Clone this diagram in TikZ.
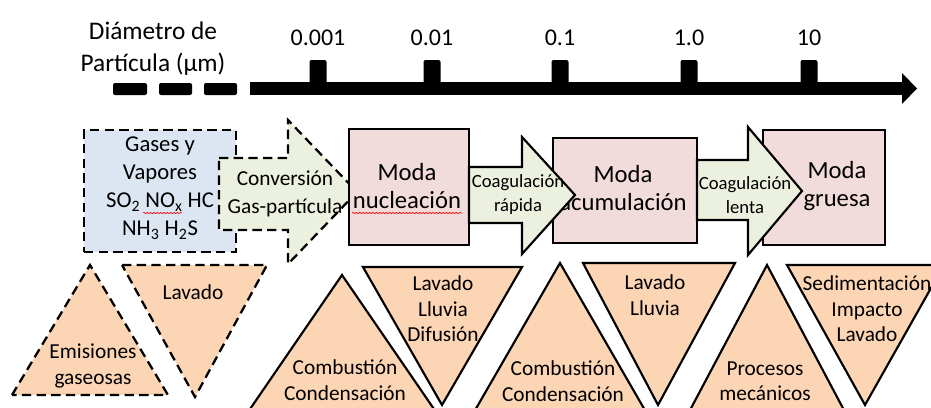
\documentclass[tikz,border=0pt]{standalone}
\usepackage{fontspec}
\setmainfont{Carlito}
\usetikzlibrary{positioning,calc,decorations.pathmorphing}

\definecolor{gasblue}{RGB}{220,230,242}
\definecolor{convgreen}{RGB}{235,241,222}
\definecolor{modepink}{RGB}{242,220,219}
\definecolor{procpeach}{RGB}{252,213,180}

\begin{document}
\begin{tikzpicture}[
    x=0.75pt, y=-0.75pt,
    dashline/.style={
        dash pattern=on 7pt off 4pt,
        line width=1.7pt
    },
    modebox/.style={
        rectangle,
        draw,
        line width=1.6pt,
        fill=modepink,
        inner sep=0pt
    },
    gasbox/.style={
        rectangle,
        draw,
        dashline,
        fill=gasblue,
        inner sep=0pt
    },
    fatarrow/.style={
        draw,
        line width=1.6pt,
        fill=convgreen
    },
    tri/.style={
        draw,
        line width=1.6pt,
        fill=procpeach
    },
    txt/.style={
        align=center,
        inner sep=0pt,
        font=\fontsize{16}{19}\selectfont
    },
    modetxt/.style={
        txt,
        font=\fontsize{18.5}{21}\selectfont
    },
    smalltxt/.style={
        txt,
        font=\fontsize{14}{18}\selectfont
    },
    ticktxt/.style={
        txt,
        font=\fontsize{18}{22}\selectfont
    },
    squiggle/.style={
        red,
        line width=0.5pt,
        decorate,
        decoration={snake, amplitude=0.5pt, segment length=2.5pt}
    }
]
    \useasboundingbox (0,0) rectangle (931,407);

    % Axis
    \node [txt, font=\fontsize{19}{24}\selectfont] (axis_lbl) at (153,49) {Diámetro de\\Partícula (µm)};
    \foreach \xa/\xb in {113/147, 159/192, 204/237}
        \fill [rounded corners=1.5pt] (\xa,83) rectangle (\xb,95);
    \fill (250,82) rectangle (903,95);
    \fill (902,73) -- (917,88.5) -- (902,104) -- cycle;
    \foreach \x/\v [count=\i] in {318/0.001, 432/0.01, 560/0.1, 689/1.0, 809/10} {
        \fill [rounded corners=1.5pt] (\x-8.5,60) rectangle (\x+8.5,90);
        \node [ticktxt] (tick\i) at (\x,38) {\v};
    }

    % Gases
    \node [gasbox, minimum width=114pt, minimum height=91.5pt] (gases) at (160,191) {};
    \node [txt, font=\fontsize{17}{21}\selectfont] (gases_t) at (160,188)
        {Gases y\\Vapores\\SO\textsubscript{2} NO\textsubscript{x} HC\\NH\textsubscript{3} H\textsubscript{2}S};
    \draw [squiggle] (143,213) -- (182,213);

    % Conversion
    \draw [fatarrow, dashline] (219,158) -- (288,158) -- (288,120) -- (357,192)
        -- (288,264) -- (288,230) -- (219,230) -- cycle;
    \node [txt, font=\fontsize{16}{21}\selectfont] (conv_t) at (285,194) {Conversión\\Gas-partícula};

    % Modes
    \node [modebox, minimum width=90pt, minimum height=87pt] (nuc) at (409,187) {};
    \node [modetxt] (nuc_t) at (407,186) {Moda\\nucleación};
    \draw [squiggle] (352,213) -- (462,213);

    \node [modebox, minimum width=108pt, minimum height=78.75pt] (acu) at (625,190.5) {};
    \node [modetxt] (acu_t) at (623,188) {Moda\\acumulación};

    \node [modebox, minimum width=91.5pt, minimum height=86.25pt] (gru) at (824,187.5) {};
    \node [modetxt] (gru_t) at (837,186) {Moda\\gruesa};

    % Coagulation
    \draw [fatarrow] (469,167) -- (522,167) -- (522,137) -- (575,195)
        -- (522,254) -- (522,223) -- (469,223) -- cycle;
    \node [smalltxt] (coag1_t) at (518,195) {Coagulación\\rápida};

    \draw [fatarrow] (697,160) -- (748,160) -- (748,127) -- (802,191)
        -- (748,255) -- (748,220) -- (697,220) -- cycle;
    \node [smalltxt] (coag2_t) at (745,195) {Coagulación\\lenta};

    % Sources and sinks
    \draw [tri, dashline] (12,395) -- (90,265) -- (168,395) -- cycle;
    \node [txt] (emis_t) at (93,366) {Emisiones\\gaseosas};
    \draw [tri, dashline] (122,265) -- (267,265) -- (195,397) -- cycle;
    \node [txt] (lav0_t) at (193,292) {Lavado};

    \draw [tri] (248,412) -- (342,275) -- (436,412) -- cycle;
    \node [txt] (comb1_t) at (345,380) {Combustión\\Condensación};
    \draw [tri] (363,267) -- (522,267) -- (442,405) -- cycle;
    \node [txt] (lav1_t) at (443,309) {Lavado\\Lluvia\\Difusión};

    \draw [tri] (474,412) -- (560,263) -- (646,412) -- cycle;
    \node [txt] (comb2_t) at (563,381) {Combustión\\Condensación};
    \draw [tri] (583,263) -- (735,263) -- (658,405) -- cycle;
    \node [txt] (lav2_t) at (655,295) {Lavado\\Lluvia};

    \draw [tri] (689,412) -- (767,265) -- (845,412) -- cycle;
    \node [txt] (proc_t) at (765,381) {Procesos\\mecánicos};
    \draw [tri] (787,265) -- (944,265) -- (865,405) -- cycle;
    \node [txt] (sed_t) at (867,309) {Sedimentación\\Impacto\\Lavado};

\end{tikzpicture}
\end{document}
